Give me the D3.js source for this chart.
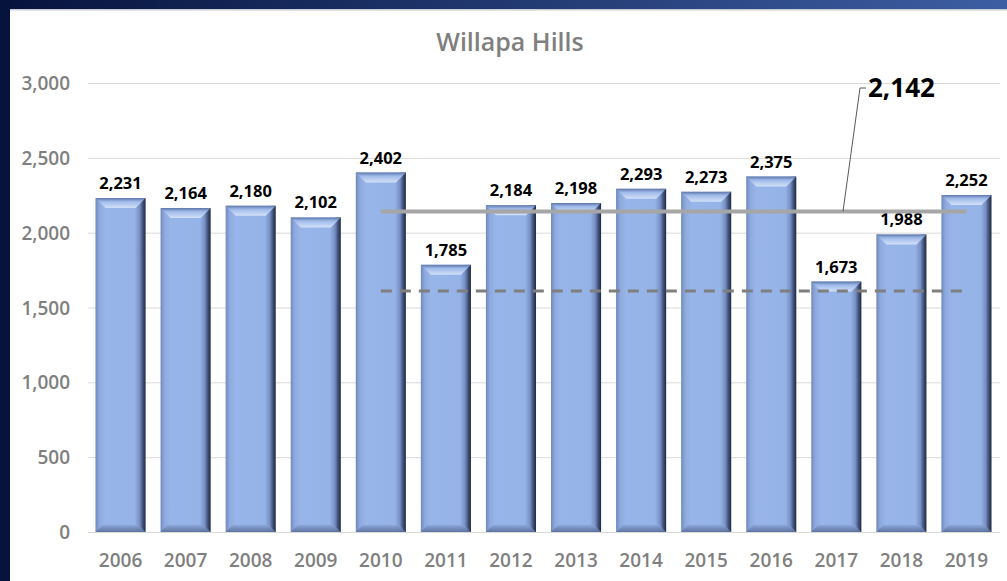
<!DOCTYPE html>
<html><head><meta charset="utf-8">
<script src="https://cdn.jsdelivr.net/npm/d3@7"></script>
<style>html,body{margin:0;padding:0;background:#fff;}svg{display:block;}</style>
</head><body>
<script>
const categories = ["2006","2007","2008","2009","2010","2011","2012","2013","2014","2015","2016","2017","2018","2019"];
const values = [2231,2164,2180,2102,2402,1785,2184,2198,2293,2273,2375,1673,1988,2252];
const yTicks = [0,500,1000,1500,2000,2500,3000];
const averageValue = 2142;
const averageLabel = "2,142";
const lowerRefValue = 1610;
const refStart = "2010", refEnd = "2019";
const title = "Willapa Hills";

const W = 1007, H = 581;
const svg = d3.select("body").append("svg").attr("width", W).attr("height", H);
const defs = svg.append("defs");

// frame
const fg = defs.append("linearGradient").attr("id","topbar");
fg.append("stop").attr("offset","0%").attr("stop-color","#06133d");
fg.append("stop").attr("offset","100%").attr("stop-color","#3d5ea3");
svg.append("rect").attr("x",0).attr("y",0).attr("width",W).attr("height",H).attr("fill","#fff");
svg.append("rect").attr("x",0).attr("y",0).attr("width",W).attr("height",9).attr("fill","url(#topbar)");
svg.append("rect").attr("x",0).attr("y",9).attr("width",W).attr("height",1.5).attr("fill","#c9ccd3");
svg.append("rect").attr("x",0).attr("y",0).attr("width",10).attr("height",H).attr("fill","#06133d");

const x = d3.scaleBand().domain(categories).range([88, 999]).paddingInner(0.23).paddingOuter(0.115);
const y = d3.scaleLinear().domain([0,3000]).range([532, 83]);
const bw = x.bandwidth();

// gradients for bars
const bg = defs.append("linearGradient").attr("id","barFill").attr("x1","0").attr("x2","1").attr("y1","0").attr("y2","0");
[["0%","#7089bd"],["8%","#8ea9de"],["20%","#98b5ea"],["78%","#96b3e8"],["88%","#7790c4"],["95%","#3c4c72"],["100%","#1f2a44"]]
  .forEach(s=>bg.append("stop").attr("offset",s[0]).attr("stop-color",s[1]));
const tg = defs.append("linearGradient").attr("id","topBevel").attr("x1","0").attr("x2","0").attr("y1","0").attr("y2","1");
[["0%","#5d76aa"],["35%","#9fbaea"],["100%","#d3e1f8"]].forEach(s=>tg.append("stop").attr("offset",s[0]).attr("stop-color",s[1]));
const btg = defs.append("linearGradient").attr("id","botBevel").attr("x1","0").attr("x2","0").attr("y1","0").attr("y2","1");
[["0%","#8aa4d6"],["100%","#5a6f9c"]].forEach(s=>btg.append("stop").attr("offset",s[0]).attr("stop-color",s[1]));

// title
svg.append("text").attr("x",510).attr("y",51).attr("text-anchor","middle")
  .attr("font-family","'Open Sans', sans-serif").attr("font-weight",600).attr("font-size",25)
  .attr("fill","#7f7f7f").text(title);

// gridlines
svg.append("g").selectAll("line").data(yTicks).join("line")
  .attr("x1",88).attr("x2",1000).attr("y1",d=>y(d)+0.5).attr("y2",d=>y(d)+0.5)
  .attr("stroke","#d9d9d9").attr("stroke-width",1);

// y axis labels
const yAxis = d3.axisLeft(y).tickValues(yTicks).tickFormat(d3.format(",")).tickSize(0).tickPadding(0);
const ya = svg.append("g").attr("transform","translate(70,0)").call(yAxis);
ya.select(".domain").remove();
ya.selectAll("text").attr("font-family","'Open Sans', sans-serif").attr("font-weight",600)
  .attr("font-size",19).attr("fill","#7f7f7f").attr("dy","0.35em");

// x axis labels
const xAxis = d3.axisBottom(x).tickSize(0).tickPadding(0);
const xa = svg.append("g").attr("transform","translate(0,553)").call(xAxis);
xa.select(".domain").remove();
xa.selectAll("text").attr("font-family","'Open Sans', sans-serif").attr("font-weight",600)
  .attr("font-size",19).attr("fill","#7f7f7f");

// bars
const bars = svg.append("g").selectAll("g").data(categories.map((c,i)=>({c,v:values[i]}))).join("g");
bars.append("rect").attr("x",d=>x(d.c)).attr("y",d=>y(d.v)).attr("width",bw).attr("height",d=>y(0)-y(d.v))
  .attr("fill","url(#barFill)");
bars.append("path").attr("d",d=>{
  const x0=x(d.c), y0=y(d.v), b=10;
  return `M${x0},${y0}L${x0+bw},${y0}L${x0+bw-b},${y0+b}L${x0+b},${y0+b}Z`;
}).attr("fill","url(#topBevel)");
bars.append("path").attr("d",d=>{
  const x0=x(d.c), y0=y(0), b=7;
  return `M${x0},${y0}L${x0+bw},${y0}L${x0+bw-b},${y0-b}L${x0+b},${y0-b}Z`;
}).attr("fill","url(#botBevel)").attr("opacity",0.9);

// data labels
bars.append("text").attr("x",d=>x(d.c)+bw/2).attr("y",d=>y(d.v)-9).attr("text-anchor","middle")
  .attr("font-family","'Open Sans', sans-serif").attr("font-weight",700).attr("font-size",16.5)
  .attr("fill","#000").text(d=>d3.format(",")(d.v));

// reference lines
const xs = x(refStart)+bw/2, xe = x(refEnd)+bw/2;
svg.append("line").attr("x1",xs).attr("x2",xe).attr("y1",y(averageValue)).attr("y2",y(averageValue))
  .attr("stroke","#a6a6a6").attr("stroke-width",4);
svg.append("line").attr("x1",xs).attr("x2",xe).attr("y1",y(lowerRefValue)).attr("y2",y(lowerRefValue))
  .attr("stroke","#7f7f7f").attr("stroke-width",3).attr("stroke-dasharray","11,8");

// annotation
svg.append("path").attr("d",`M843,${y(averageValue)}L860,88L866,88`).attr("fill","none")
  .attr("stroke","#595959").attr("stroke-width",1);
svg.append("text").attr("x",868).attr("y",97).attr("font-family","'Open Sans', sans-serif")
  .attr("font-weight",700).attr("font-size",26).attr("fill","#000").text(averageLabel);
</script>
</body></html>
